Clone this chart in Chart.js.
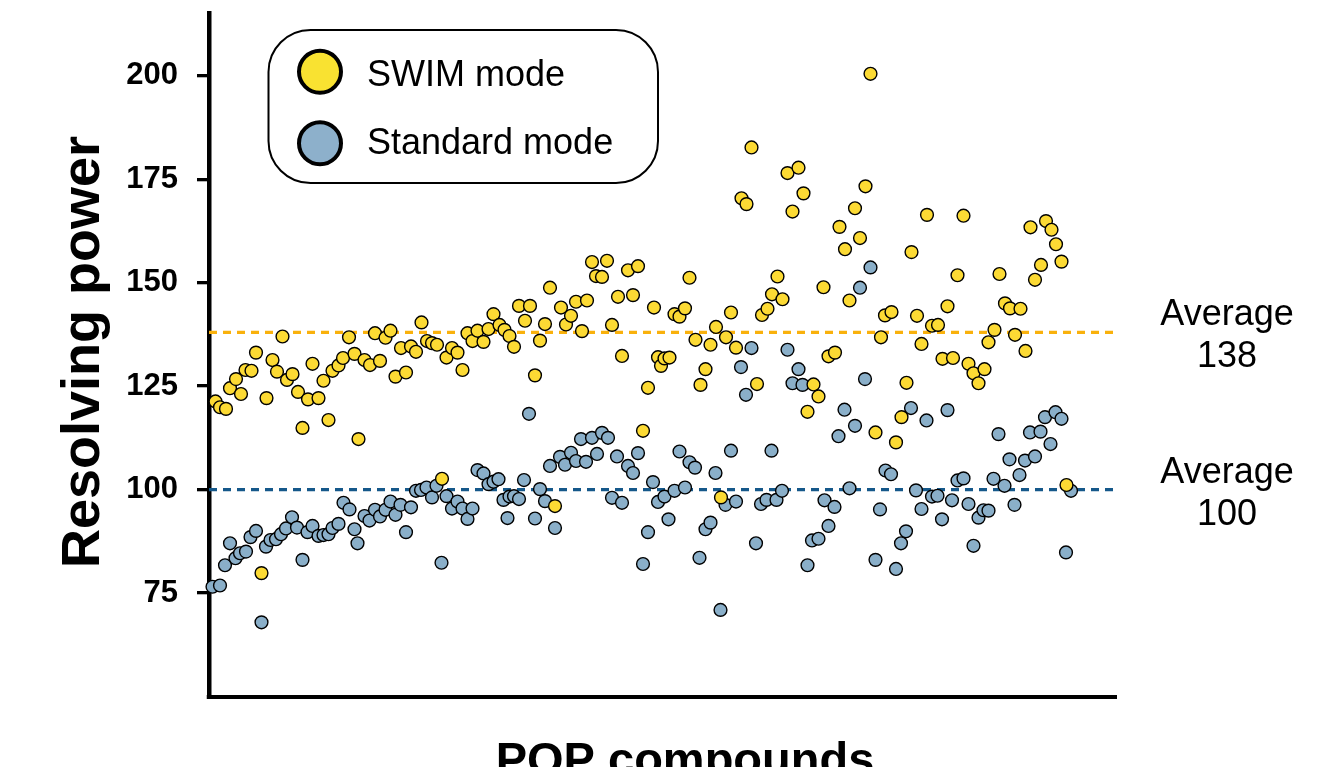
<!DOCTYPE html>
<html><head><meta charset="utf-8">
<script src="https://cdn.jsdelivr.net/npm/chart.js@4.4.0/dist/chart.umd.min.js"></script>
<style>html,body{margin:0;padding:0;background:#fff;}canvas{display:block;}</style>
</head><body>
<canvas id="c" width="1335" height="767"></canvas>
<script>
// ---- data (compound index, resolving power) ----
const swimX = [1.3,2.2,3.4,4.2,5.4,6.4,7.3,8.5,9.4,10.5,
11.5,12.7,13.6,14.7,15.6,16.7,17.8,18.7,19.8,20.7,
21.9,22.9,23.9,24.7,25.9,26.8,28,29.1,29.9,31.1,
32.2,33.2,34.2,35.3,36.3,37.3,38.4,39.4,40.4,41.4,
42.5,43.6,44.6,45.6,46.6,47.5,48.6,49.7,50.7,51.7,
52.7,53.7,54.9,55.9,56.9,58.1,59.1,60.1,61,62,
63.2,64.2,65.2,66.2,67.2,68.2,69.2,70.4,71.4,72.4,
73.4,74.6,75.6,76.6,77.4,78.6,79.6,80.6,81.8,82.6,
83.8,84.8,85.8,86.8,87.8,89,89.8,90.4,91.1,92.1,
93.1,94.1,95.2,96.1,97.3,98.3,99.3,100.3,101.4,102.4,
103.4,104.4,105.4,106.5,107.5,108.5,109.6,110.6,111.7,112.6,
113.7,114.7,115.7,116.7,117.9,118.9,119.7,120.9,121.9,122.9,
123.9,125.2,126.1,127.2,128.1,129.2,130.2,131.3,132.3,133.3,
134.4,135.2,136.5,137.4,138.5,139.5,140.5,141.6,142.5,143.6,
144.6,145.8,146.7,147.7,148.8,149.7,150.9,151.9,152.9,153.9,
155.1,155.9,157.1,158.1,159.2,160.2,161.2,162.3,163.3,164.3,
165.2,166.4,167.4,168.5,169.4,170.5,171.5];
const swimY = [121.3,119.9,119.5,124.5,126.7,123.1,128.9,128.7,133.1,79.8,
122.1,131.3,128.5,137,126.5,127.9,123.6,114.9,121.8,130.4,
122.1,126.3,116.8,128.7,130,131.8,136.8,132.8,112.2,131.3,
130.1,137.8,131.1,136.7,138.4,127.3,134.2,128.3,134.6,133.3,
140.4,135.9,135.4,135,102.6,131.9,134.2,133.1,128.9,137.8,
135.9,138.4,135.7,138.8,142.4,139.8,138.6,137.1,134.5,144.4,
140.8,144.4,127.6,136,140,148.8,96,144,139.9,142,
145.4,138.3,145.7,155,151.6,151.4,155.3,139.8,146.6,132.3,
153,147,154,114.2,124.6,144,132,129.9,131.7,131.9,
142.4,141.8,143.8,151.2,136.2,125.3,129.1,135,139.3,98.1,
136.8,142.8,134.3,170.4,169,182.7,125.5,142.2,143.7,147.2,
151.5,146,176.5,167.2,177.8,171.6,118.8,125.4,122.5,148.9,
132.2,133.1,163.5,158.1,145.7,168,160.8,173.3,200.5,113.8,
136.8,142.1,142.9,111.4,117.5,125.8,157.4,142,135.2,166.4,
139.6,139.8,131.6,144.3,131.8,151.8,166.2,130.4,128.1,125.7,
129.1,135.6,138.6,152.1,145,143.8,137.4,143.7,133.5,163.4,
150.7,154.3,164.9,162.8,159.3,155.1,101.1];
const stdX = [0.7,2.2,3.2,4.2,5.3,6.2,7.4,8.3,9.4,10.5,
11.4,12.3,13.4,14.4,15.4,16.6,17.6,18.7,19.7,20.7,
21.9,22.9,23.9,24.7,25.9,26.9,28.1,29.1,29.7,31.1,
32.1,33.2,34.2,35.3,36.3,37.3,38.3,39.4,40.4,41.4,
42.4,43.5,44.6,45.5,46.5,47.5,48.6,49.7,50.7,51.7,
52.7,53.7,54.9,55.9,56.9,57.9,58.9,59.7,60.1,61,
62,63,64,65.2,66.2,67.2,68.2,69.2,70.2,71.2,
72.4,73.4,74.4,75.4,76.6,77.6,78.6,79.8,80.6,81.6,
82.6,83.8,84.8,85.8,86.8,87.8,88.8,89.8,91.1,91.9,
93.1,94.1,95.2,96.1,97.2,98.1,99.3,100.3,101.3,102.3,
103.3,104.4,105.4,106.4,107.4,108.5,109.4,110.4,111.5,112.5,
113.5,114.6,115.7,116.7,117.9,118.7,119.7,120.6,121.9,123.1,
123.9,125.1,125.9,127.1,128.1,129.2,130.2,131.2,132.3,133.3,
134.2,135.3,136.4,137.4,138.4,139.4,140.4,141.4,142.5,143.5,
144.6,145.7,146.6,147.7,148.6,149.7,150.9,151.9,152.9,153.9,
154.9,155.9,156.9,157.9,159.1,160.1,161.1,162.1,163.2,164.2,
165.2,166.3,167.2,168.3,169.3,170.5,171.4,172.4];
const stdY = [76.5,76.8,81.7,87,83.4,84.6,85,88.5,90,67.9,
86.2,87.8,88,89.2,90.6,93.3,90.8,83,89.7,91.2,
88.8,89,89.2,90.7,91.7,96.8,95.2,90.4,87,93.6,
92.5,95.1,93.5,95.1,97.1,93.9,96.3,89.7,95.7,99.7,
99.9,100.5,98.1,100.9,82.3,98.4,95.4,97.1,95.4,92.9,
95.4,104.7,103.9,101.3,101.9,102.5,97.5,93.1,98.3,98.4,
97.7,102.3,118.3,93,100.1,97.2,105.7,90.7,107.9,106,
108.9,106.9,112.2,106.7,112.5,108.6,113.7,112.5,98,108,
96.8,105.7,104,108.8,82,89.7,101.8,97,98.3,92.8,
99.7,109.2,100.5,106.6,105.3,83.5,90.4,92,104,70.9,
96.3,109.4,97.1,129.6,122.9,134.2,87,96.5,97.5,109.4,
97.5,99.7,133.8,125.7,129.1,125.3,81.7,87.7,88.1,97.4,
91.2,95.8,112.9,119.3,100.3,115.4,148.8,126.7,153.7,83,
95.2,104.6,103.7,80.8,87,89.9,119.7,99.8,95.3,116.7,
98.3,98.5,92.8,119.2,97.4,102.2,102.7,96.5,86.4,93.2,
95,94.9,102.6,113.4,100.9,107.3,96.3,103.5,107,113.8,
108,114,117.5,111,118.7,117.1,84.8,99.7];
const seriesNames = ['SWIM mode', 'Standard mode'];
const averageValues = [138, 100];
const averageWord = 'Average';
const yTicks = [75, 100, 125, 150, 175, 200];
const yTitle = 'Resolving power';
const xTitle = 'POP compounds';
const xRange = [0, 181.4];
const yRange = [49.85, 215.2];

// ---- styles ----
const FONT = '"Liberation Sans", Arial, Helvetica, sans-serif';
const swimFill = '#FCDA34', stdFill = '#8AAFC9';
const swimLegend = '#F9E231', stdLegend = '#8DB0CB';
const swimAvgColor = '#F9B10C', stdAvgColor = '#15588A';

const toPts = (xs, ys) => xs.map((x, i) => ({x: x, y: ys[i]}));
const avgLine = v => [{x: xRange[0], y: v}, {x: xRange[1], y: v}];

const deco = {
  id: 'deco',
  afterDraw(chart) {
    const ctx = chart.ctx, ys = chart.scales.y, ca = chart.chartArea;
    ctx.save();
    ctx.fillStyle = '#000';
    ctx.fillRect(ca.left - 2.25, ca.bottom - 2, 4.5, 4);
    // y title
    ctx.save();
    ctx.font = 'bold 54px ' + FONT;
    ctx.textAlign = 'center'; ctx.textBaseline = 'alphabetic';
    ctx.translate(99, 352); ctx.rotate(-Math.PI / 2);
    ctx.fillText(yTitle, 0, 0);
    ctx.restore();
    // x title
    ctx.font = 'bold 47px ' + FONT;
    ctx.textAlign = 'center'; ctx.textBaseline = 'alphabetic';
    ctx.fillText(xTitle, 685, 775);
    // average labels
    ctx.font = '36px ' + FONT;
    averageValues.forEach(v => {
      const py = ys.getPixelForValue(v);
      ctx.fillText(averageWord, 1227, py - 7);
      ctx.fillText(String(v), 1227, py + 35);
    });
    // legend
    ctx.beginPath();
    ctx.roundRect(268.5, 30, 389.5, 153, 42);
    ctx.fillStyle = '#fff'; ctx.fill();
    ctx.lineWidth = 2; ctx.strokeStyle = '#000'; ctx.stroke();
    const items = [[swimLegend, 71.7, 86], [stdLegend, 143.3, 154]];
    items.forEach((it, i) => {
      ctx.beginPath();
      ctx.arc(320, it[1], 21, 0, Math.PI * 2);
      ctx.fillStyle = it[0]; ctx.fill();
      ctx.lineWidth = 4; ctx.strokeStyle = '#000'; ctx.stroke();
      ctx.fillStyle = '#000';
      ctx.font = '36px ' + FONT;
      ctx.textAlign = 'left';
      ctx.fillText(seriesNames[i], 367, it[2]);
    });
    ctx.restore();
  }
};

new Chart(document.getElementById('c'), {
  type: 'scatter',
  data: {
    datasets: [
      {label: seriesNames[0], data: toPts(swimX, swimY), order: 0, clip: false,
       backgroundColor: swimFill, borderColor: '#000', borderWidth: 1.4, pointRadius: 6.4, pointHoverRadius: 6.4},
      {label: seriesNames[1], data: toPts(stdX, stdY), order: 1, clip: false,
       backgroundColor: stdFill, borderColor: '#000', borderWidth: 1.4, pointRadius: 6.4, pointHoverRadius: 6.4},
      {label: 'avg swim', data: avgLine(averageValues[0]), order: 2, showLine: true, pointRadius: 0,
       borderColor: swimAvgColor, borderWidth: 3.3, borderDash: [8, 6], fill: false},
      {label: 'avg std', data: avgLine(averageValues[1]), order: 3, showLine: true, pointRadius: 0,
       borderColor: stdAvgColor, borderWidth: 3.3, borderDash: [8, 6], fill: false}
    ]
  },
  options: {
    responsive: false, animation: false, devicePixelRatio: 1,
    layout: {padding: {left: 0, right: 219, top: 13, bottom: 0}},
    plugins: {legend: {display: false}, tooltip: {enabled: false}},
    scales: {
      x: {type: 'linear', min: xRange[0], max: xRange[1],
          afterFit: s => { s.height = 70; s.paddingLeft = 0; s.paddingRight = 0; },
          grid: {display: false},
          border: {display: true, color: '#000', width: 4},
          ticks: {display: false}},
      y: {type: 'linear', min: yRange[0], max: yRange[1],
          afterBuildTicks: s => { s.ticks = yTicks.map(v => ({value: v})); },
          afterFit: s => { s.width = 209; s.paddingTop = 0; s.paddingBottom = 0; },
          grid: {display: true, drawOnChartArea: false, drawTicks: true, tickLength: 12,
                 lineWidth: 3.3, tickWidth: 3.3, color: '#000', tickColor: '#000'},
          border: {display: true, color: '#000', width: 4.5},
          ticks: {color: '#000', padding: 19, font: {family: FONT, size: 31, weight: 'bold'}}}
    }
  },
  plugins: [deco]
});
</script>
</body></html>
